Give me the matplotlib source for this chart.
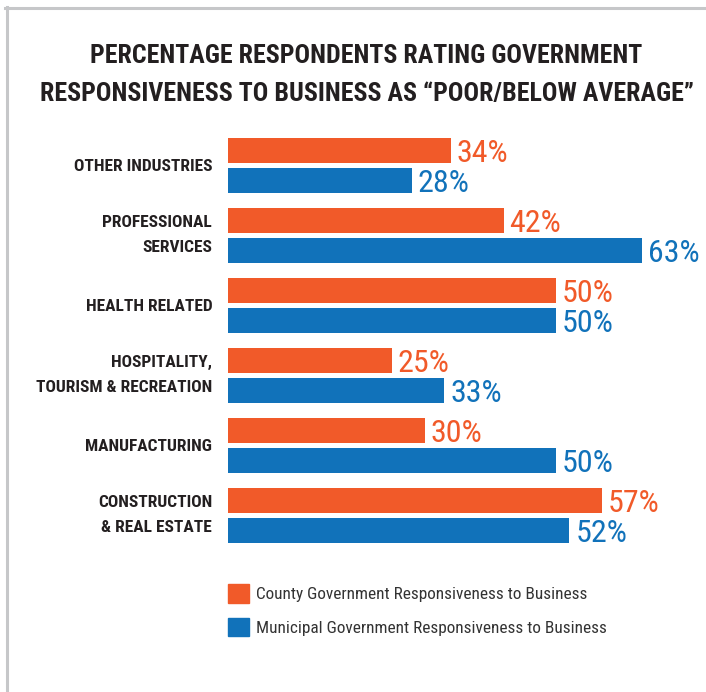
import matplotlib
matplotlib.use("Agg")
import matplotlib.pyplot as plt
from matplotlib import font_manager
from matplotlib.lines import Line2D
from matplotlib.patches import Patch

categories = [
    "OTHER INDUSTRIES",
    "PROFESSIONAL\nSERVICES",
    "HEALTH RELATED",
    "HOSPITALITY,\nTOURISM & RECREATION",
    "MANUFACTURING",
    "CONSTRUCTION\n& REAL ESTATE",
]
county = [34, 42, 50, 25, 30, 57]
municipal = [28, 63, 50, 33, 50, 52]
series_names = [
    "County Government Responsiveness to Business",
    "Municipal Government Responsiveness to Business",
]

ORANGE = "#F15A29"
BLUE = "#1172BA"
DARK = "#231F20"

# prefer a narrow face if one is installed, otherwise shrink a regular one
installed = {f.name for f in font_manager.fontManager.ttflist}
narrow = [n for n in ["Roboto Condensed", "Liberation Sans Narrow",
                      "Noto Sans Condensed", "Open Sans Condensed"] if n in installed]
if narrow:
    plt.rcParams['font.family'] = [narrow[0], 'DejaVu Sans']
    sz = dict(title=18.6, cat=12.5, val=23, leg=12.4)
else:
    plt.rcParams['font.family'] = ['Liberation Sans', 'DejaVu Sans']
    sz = dict(title=14.7, cat=10, val=17.5, leg=11)

W, H = 706, 692
fig = plt.figure(figsize=(W / 100, H / 100), dpi=100)

# grey frame on the top and left edges
frame = "#C6C7C9"
fig.add_artist(Line2D([5 / W, 1], [1 - 7.5 / H] * 2, color=frame, lw=2.2, transform=fig.transFigure))
fig.add_artist(Line2D([6.5 / W] * 2, [0, 1 - 6.5 / H], color=frame, lw=2.2, transform=fig.transFigure))

fig.text(366.5 / W, 1 - 75 / H,
         "PERCENTAGE RESPONDENTS RATING GOVERNMENT\n"
         "RESPONSIVENESS TO BUSINESS AS \u201cPOOR/BELOW AVERAGE\u201d",
         ha="center", va="center", fontsize=sz["title"], fontweight="bold",
         color=DARK, linespacing=1.72)

# bar area: 0% at x=227.5px, 6.57px per percent
ax = fig.add_axes([227.5 / W, (H - 550) / H, 460 / W, 420 / H])
pos = list(range(len(categories)))
h = 25 / 70
off = 15 / 70
ax.barh([p - off for p in pos], county, height=h, color=ORANGE)
ax.barh([p + off for p in pos], municipal, height=h, color=BLUE)

for p, v in zip(pos, county):
    ax.annotate(f"{v}%", (v, p - off), xytext=(6, 0), textcoords="offset pixels",
                ha="left", va="center_baseline", fontsize=sz["val"], color=ORANGE)
for p, v in zip(pos, municipal):
    ax.annotate(f"{v}%", (v, p + off), xytext=(6, 0), textcoords="offset pixels",
                ha="left", va="center_baseline", fontsize=sz["val"], color=BLUE)

ax.set_xlim(0, 70)
ax.set_ylim(5.5, -0.5)
ax.set_yticks(pos)
ax.set_yticklabels(categories, fontsize=sz["cat"], fontweight="bold", color=DARK,
                   linespacing=1.85)
# two-line labels: one line beside each bar
for lbl in ax.get_yticklabels():
    if "\n" in lbl.get_text():
        lbl.set_verticalalignment("center")
ax.tick_params(axis="y", length=0, pad=11)
ax.set_xticks([])
for s in ax.spines.values():
    s.set_visible(False)

handles = [Patch(color=ORANGE), Patch(color=BLUE)]
fs_px = sz["leg"] * 100 / 72
fig.legend(handles, series_names, loc="upper left",
           bbox_to_anchor=(228 / W, 1 - 584 / H), frameon=False,
           fontsize=sz["leg"], labelcolor="#333333", handlelength=21 / fs_px,
           handleheight=22 / fs_px, handletextpad=7 / fs_px,
           labelspacing=15 / fs_px, borderaxespad=0, borderpad=0)

fig.savefig("out.png", dpi=100)
